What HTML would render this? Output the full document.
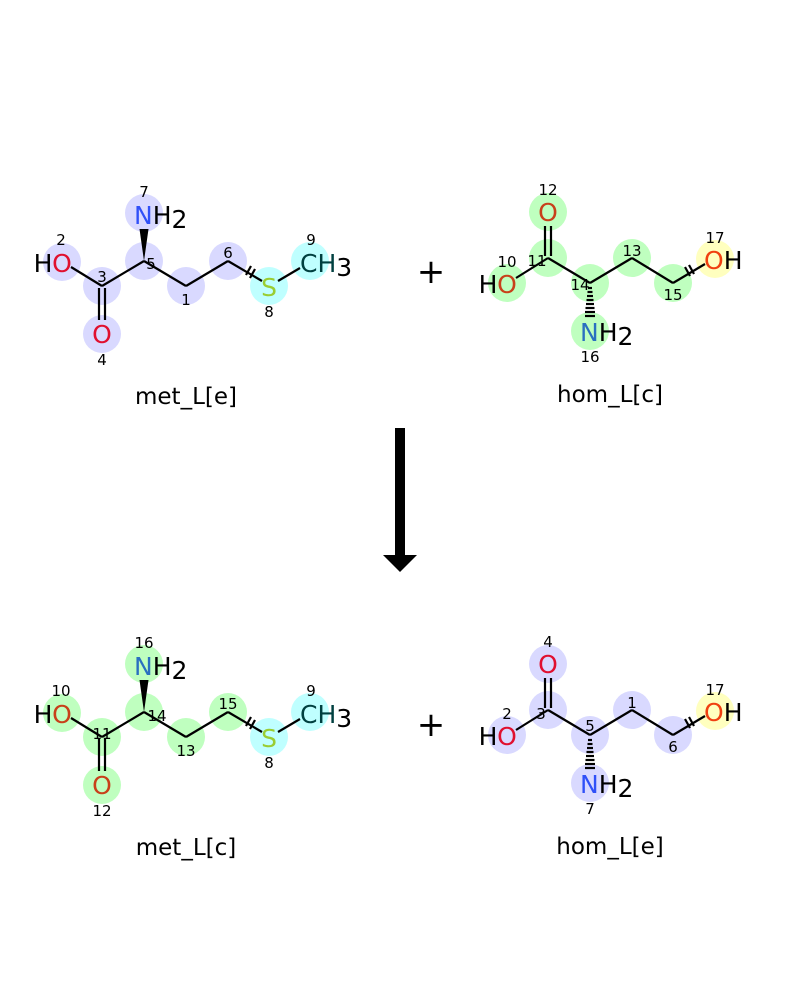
<!DOCTYPE html>
<html><head><meta charset="utf-8"><style>
html,body{margin:0;padding:0;background:#fff;}
svg{display:block;font-family:"DejaVu Sans","Liberation Sans",sans-serif;}
.a{font-size:25px;text-anchor:middle;}
.b{font-size:25px;}
.n{font-size:15px;text-anchor:middle;fill:#000;}
.l{font-size:23px;text-anchor:middle;fill:#000;}
line{stroke:#000;stroke-width:2.2;}
</style></head><body>
<svg width="800" height="1000" viewBox="0 0 800 1000" xmlns="http://www.w3.org/2000/svg">
<rect width="800" height="1000" fill="#fff"/>

<!-- Top-left met_L[e] -->
<g>
<g fill="#d9d9ff">
<circle cx="62" cy="262" r="19"/><circle cx="102" cy="286" r="19"/><circle cx="144" cy="261" r="19"/>
<circle cx="186" cy="286" r="19"/><circle cx="228" cy="261" r="19"/><circle cx="144" cy="213" r="19"/>
<circle cx="102" cy="334" r="19"/>
</g>
<g fill="#bfffff"><circle cx="269" cy="286" r="19"/><circle cx="310" cy="261" r="19"/></g>
<line x1="71" y1="267" x2="102" y2="286"/><line x1="102" y1="286" x2="144" y2="261"/>
<line x1="144" y1="261" x2="186" y2="286"/><line x1="186" y1="286" x2="228" y2="261"/>
<line x1="228" y1="261" x2="262" y2="281"/><line x1="278" y1="281" x2="300" y2="268"/>
<line x1="99" y1="288" x2="99" y2="320"/><line x1="105" y1="288" x2="105" y2="320"/>
<line x1="246" y1="275" x2="251" y2="266"/><line x1="250" y1="278" x2="255" y2="269"/>
<polygon points="144,261 139.5,229 148.5,229" fill="#000"/>
<text class="a" x="43" y="272" fill="#000">H</text><text class="a" x="62" y="272" fill="#e0102f">O</text>
<text class="a" x="102" y="343" fill="#e0102f">O</text>
<text class="b" x="134" y="224" fill="#3050f8">N<tspan fill="#000">H<tspan dy="4">2</tspan></tspan></text>
<text class="a" x="269" y="296" fill="#9acd32">S</text>
<text class="b" x="300" y="272" fill="#004040">CH<tspan dy="4" fill="#000">3</tspan></text>
<text class="n" x="61" y="245">2</text><text class="n" x="102" y="282">3</text><text class="n" x="151" y="269">5</text>
<text class="n" x="186" y="305">1</text><text class="n" x="228" y="258">6</text><text class="n" x="269" y="317">8</text>
<text class="n" x="311" y="245">9</text><text class="n" x="144" y="197">7</text><text class="n" x="102" y="365">4</text>
<text class="l" x="186" y="404">met_L[e]</text>
</g>

<!-- Top-right hom_L[c] -->
<g>
<g fill="#bfffbf">
<circle cx="507" cy="283" r="19"/><circle cx="548" cy="258" r="19"/><circle cx="548" cy="212" r="19"/>
<circle cx="590" cy="283" r="19"/><circle cx="632" cy="258" r="19"/><circle cx="673" cy="283" r="19"/>
<circle cx="590" cy="331" r="19"/>
</g>
<circle cx="715" cy="259" r="19" fill="#ffffbf"/>
<line x1="516" y1="278" x2="548" y2="258"/><line x1="548" y1="258" x2="590" y2="283"/>
<line x1="590" y1="283" x2="632" y2="258"/><line x1="632" y1="258" x2="673" y2="283"/>
<line x1="673" y1="283" x2="705" y2="264"/>
<line x1="545" y1="256" x2="545" y2="226"/><line x1="551" y1="256" x2="551" y2="226"/>
<line x1="690" y1="276" x2="685" y2="267"/><line x1="694" y1="274" x2="689" y2="265"/>
<g stroke="#000" stroke-width="1.8">
<line x1="588" y1="288" x2="592" y2="288"/><line x1="587.5" y1="292" x2="592.5" y2="292"/>
<line x1="587" y1="296" x2="593" y2="296"/><line x1="586.5" y1="300" x2="593.5" y2="300"/>
<line x1="586" y1="304" x2="594" y2="304"/><line x1="585.5" y1="308" x2="594.5" y2="308"/>
<line x1="585" y1="312" x2="595" y2="312"/><line x1="585" y1="316" x2="595" y2="316"/>
</g>
<text class="a" x="488" y="293" fill="#000">H</text><text class="a" x="507" y="293" fill="#c8401a">O</text>
<text class="a" x="548" y="221" fill="#c8401a">O</text>
<text class="b" x="704" y="269" fill="#f04010">O<tspan fill="#000">H</tspan></text>
<text class="b" x="580" y="341" fill="#2a6fc0">N<tspan fill="#000">H<tspan dy="4">2</tspan></tspan></text>
<text class="n" x="548" y="195">12</text><text class="n" x="507" y="267">10</text><text class="n" x="537" y="266">11</text>
<text class="n" x="580" y="290">14</text><text class="n" x="632" y="256">13</text><text class="n" x="673" y="300">15</text>
<text class="n" x="715" y="243">17</text><text class="n" x="590" y="362">16</text>
<text class="l" x="610" y="402">hom_L[c]</text>
</g>

<text x="431" y="283" style="font-size:34px;text-anchor:middle" fill="#000">+</text>
<text x="431" y="736" style="font-size:34px;text-anchor:middle" fill="#000">+</text>

<!-- Arrow -->
<rect x="395" y="428" width="10" height="128" fill="#000"/>
<polygon points="383,555 417,555 400,572" fill="#000"/>

<!-- Bottom-left met_L[c] -->
<g transform="translate(0,451)">
<g fill="#bfffbf">
<circle cx="62" cy="262" r="19"/><circle cx="102" cy="286" r="19"/><circle cx="144" cy="261" r="19"/>
<circle cx="186" cy="286" r="19"/><circle cx="228" cy="261" r="19"/><circle cx="144" cy="213" r="19"/>
<circle cx="102" cy="334" r="19"/>
</g>
<g fill="#bfffff"><circle cx="269" cy="286" r="19"/><circle cx="310" cy="261" r="19"/></g>
<line x1="71" y1="267" x2="102" y2="286"/><line x1="102" y1="286" x2="144" y2="261"/>
<line x1="144" y1="261" x2="186" y2="286"/><line x1="186" y1="286" x2="228" y2="261"/>
<line x1="228" y1="261" x2="262" y2="281"/><line x1="278" y1="281" x2="300" y2="268"/>
<line x1="99" y1="288" x2="99" y2="320"/><line x1="105" y1="288" x2="105" y2="320"/>
<line x1="246" y1="275" x2="251" y2="266"/><line x1="250" y1="278" x2="255" y2="269"/>
<polygon points="144,261 139.5,229 148.5,229" fill="#000"/>
<text class="a" x="43" y="272" fill="#000">H</text><text class="a" x="62" y="272" fill="#c8401a">O</text>
<text class="a" x="102" y="343" fill="#c8401a">O</text>
<text class="b" x="134" y="224" fill="#2a6fc0">N<tspan fill="#000">H<tspan dy="4">2</tspan></tspan></text>
<text class="a" x="269" y="296" fill="#9acd32">S</text>
<text class="b" x="300" y="272" fill="#004040">CH<tspan dy="4" fill="#000">3</tspan></text>
<text class="n" x="61" y="245">10</text><text class="n" x="102" y="288">11</text><text class="n" x="157" y="270">14</text>
<text class="n" x="186" y="305">13</text><text class="n" x="228" y="258">15</text><text class="n" x="269" y="317">8</text>
<text class="n" x="311" y="245">9</text><text class="n" x="144" y="197">16</text><text class="n" x="102" y="365">12</text>
<text class="l" x="186" y="404">met_L[c]</text>
</g>

<!-- Bottom-right hom_L[e] -->
<g transform="translate(0,452)">
<g fill="#d9d9ff">
<circle cx="507" cy="283" r="19"/><circle cx="548" cy="258" r="19"/><circle cx="548" cy="212" r="19"/>
<circle cx="590" cy="283" r="19"/><circle cx="632" cy="258" r="19"/><circle cx="673" cy="283" r="19"/>
<circle cx="590" cy="331" r="19"/>
</g>
<circle cx="715" cy="259" r="19" fill="#ffffbf"/>
<line x1="516" y1="278" x2="548" y2="258"/><line x1="548" y1="258" x2="590" y2="283"/>
<line x1="590" y1="283" x2="632" y2="258"/><line x1="632" y1="258" x2="673" y2="283"/>
<line x1="673" y1="283" x2="705" y2="264"/>
<line x1="545" y1="256" x2="545" y2="226"/><line x1="551" y1="256" x2="551" y2="226"/>
<line x1="690" y1="276" x2="685" y2="267"/><line x1="694" y1="274" x2="689" y2="265"/>
<g stroke="#000" stroke-width="1.8">
<line x1="588" y1="288" x2="592" y2="288"/><line x1="587.5" y1="292" x2="592.5" y2="292"/>
<line x1="587" y1="296" x2="593" y2="296"/><line x1="586.5" y1="300" x2="593.5" y2="300"/>
<line x1="586" y1="304" x2="594" y2="304"/><line x1="585.5" y1="308" x2="594.5" y2="308"/>
<line x1="585" y1="312" x2="595" y2="312"/><line x1="585" y1="316" x2="595" y2="316"/>
</g>
<text class="a" x="488" y="293" fill="#000">H</text><text class="a" x="507" y="293" fill="#e0102f">O</text>
<text class="a" x="548" y="221" fill="#e0102f">O</text>
<text class="b" x="704" y="269" fill="#f04010">O<tspan fill="#000">H</tspan></text>
<text class="b" x="580" y="341" fill="#3050f8">N<tspan fill="#000">H<tspan dy="4">2</tspan></tspan></text>
<text class="n" x="548" y="195">4</text><text class="n" x="507" y="267">2</text><text class="n" x="541" y="267">3</text>
<text class="n" x="590" y="279">5</text><text class="n" x="632" y="256">1</text><text class="n" x="673" y="300">6</text>
<text class="n" x="715" y="243">17</text><text class="n" x="590" y="362">7</text>
<text class="l" x="610" y="402">hom_L[e]</text>
</g>
</svg>
</body></html>
